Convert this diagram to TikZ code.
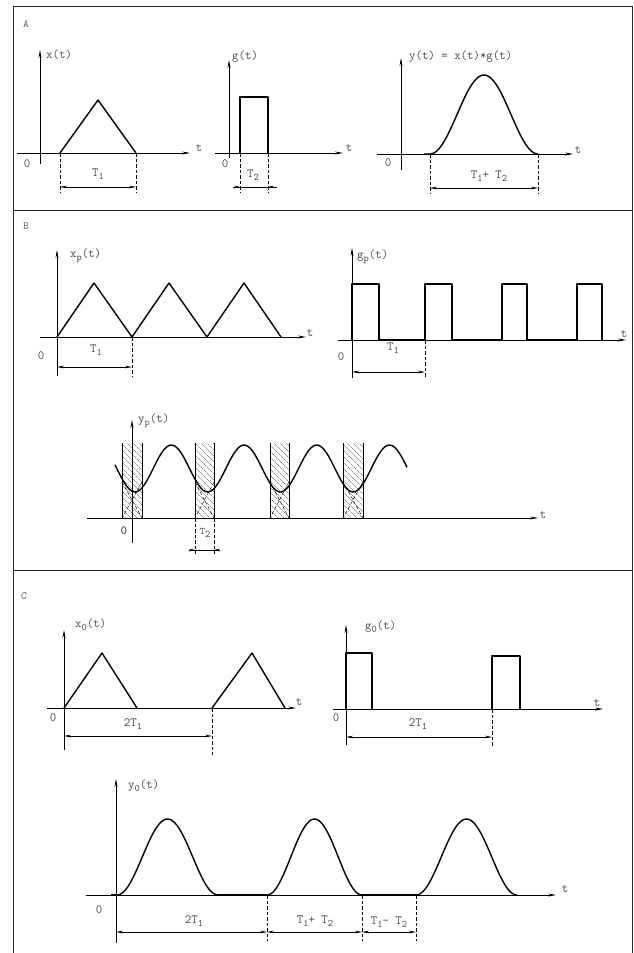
\documentclass[tikz,border=0pt]{standalone}
\usepackage{fontspec}
\usetikzlibrary{arrows.meta,patterns.meta}

\newcommand{\lowsub}[1]{\raisebox{-0.5ex}{\fontsize{10}{11}\selectfont #1}}

\tikzset{
    axis/.style={line width=0.7pt, -{Stealth[length=8pt,width=3pt]}},
    signal/.style={line width=1.4pt, line join=round},
    guide/.style={line width=0.45pt, dash pattern=on 3.5pt off 2pt},
    dimline/.style={line width=0.5pt, {Stealth[length=7pt,width=2.6pt]}-{Stealth[length=7pt,width=2.6pt]}},
    dimtip/.style={line width=0.5pt, -{Stealth[length=6pt,width=2.6pt]}},
    lbl/.style={font=\fontsize{12.5}{14}\ttfamily, text=black!72, inner sep=0pt},
    panellbl/.style={font=\fontsize{11}{12}\ttfamily, text=black!65, inner sep=0pt},
    frame/.style={line width=1pt, black!85},
    hatch/.style={pattern={Lines[angle=-45, distance=4pt, line width=0.45pt]}, pattern color=black!65},
}

\begin{document}
\begin{tikzpicture}[x=1pt, y=-1pt]

    \useasboundingbox (0,0) rectangle (634,953);

    % frame and panels
    \draw[frame] (13,953) -- (13,6) -- (632,6) -- (632,953);
    \draw[frame] (13,210) -- (632,210);
    \draw[frame] (13,570) -- (632,570);

    \node[panellbl] (pA) at (26,24) {A};
    \node[panellbl] (pB) at (26,226) {B};
    \node[panellbl] (pC) at (24,596) {C};

    % ---- A ----
    \draw[axis] (17,153) -- (190,153);
    \draw[axis] (40,164) -- (40,50);
    \draw[signal] (60,153) -- (98,100) -- (136,153);
    \draw[guide] (60,153) -- (60,192);
    \draw[guide] (136,153) -- (136,192);
    \draw[dimline] (60,187) -- (136,187);
    \node[lbl, anchor=west] (xlab) at (46,55) {x(t)};
    \node[lbl] (xzero) at (27,164) {0};
    \node[lbl] (xt) at (199,148) {t};
    \node[lbl] (xdim) at (98,174) {T\lowsub{1}};

    \draw[axis] (215,153) -- (343,153);
    \draw[axis] (229,158) -- (229,60);
    \draw[signal] (240,153) -- (240,97) -- (268,97) -- (268,153);
    \draw[guide] (240,153) -- (240,192);
    \draw[guide] (268,153) -- (268,192);
    \draw[line width=0.5pt] (233,187) -- (277,187);
    \draw[dimtip] (233,187) -- (240,187);
    \draw[dimtip] (277,187) -- (268,187);
    \node[lbl, anchor=west] (glab) at (232,57) {g(t)};
    \node[lbl] (gzero) at (225,164) {0};
    \node[lbl] (gt) at (349,148) {t};
    \node[lbl] (gdim) at (253,175) {T\lowsub{2}};

    \draw[axis] (377,154) -- (573,154);
    \draw[axis] (401,170) -- (401,58);
    \draw[signal] (424,154) -- (430,154)
        plot[domain=430:538, samples=60] (\x, {154-39.5*(1-cos((\x-430)/108*360))});
    \draw[guide] (430,154) -- (430,193);
    \draw[guide] (538,154) -- (538,193);
    \draw[dimline] (430,188) -- (538,188);
    \node[lbl, anchor=west] (ylab) at (409,57) {y(t) = x(t)*g(t)};
    \node[lbl] (yzero) at (388,163) {0};
    \node[lbl] (yt) at (578,150) {t};
    \node[lbl] (ydim) at (489,176) {T\lowsub{1}+ T\lowsub{2}};

    % ---- B ----
    \draw[axis] (40,337) -- (306,337);
    \draw[axis] (57,376) -- (57,250);
    \draw[signal] (57,337) -- (94,283) -- (132,337) -- (169,283)
        -- (207,337) -- (244,283) -- (281,337);
    \draw[guide] (132,337) -- (132,376);
    \draw[dimline] (57,367) -- (132,367);
    \node[lbl, anchor=west] (xplab) at (70,256) {x\lowsub{p}(t)};
    \node[lbl] (xpzero) at (41,356) {0};
    \node[lbl] (xpt) at (310,333) {t};
    \node[lbl] (xpdim) at (96,350) {T\lowsub{1}};

    \draw[axis] (338,340) -- (626,340);
    \draw[axis] (352,378) -- (352,248);
    \draw[signal] (352,340) -- (352,284) -- (379,284) -- (379,340)
        -- (425,340) -- (425,284) -- (452,284) -- (452,340)
        -- (502,340) -- (502,284) -- (527,284) -- (527,340)
        -- (577,340) -- (577,284) -- (602,284) -- (602,340);
    \draw[guide] (425,340) -- (425,378);
    \draw[dimline] (352,372) -- (425,372);
    \node[lbl, anchor=west] (gplab) at (357,257) {g\lowsub{p}(t)};
    \node[lbl] (gpzero) at (341,357) {0};
    \node[lbl] (gpt) at (624,334) {t};
    \node[lbl] (gpdim) at (393,348) {T\lowsub{1}};

    \foreach \l/\r in {122/142, 195/214, 270/289, 343/363} {
        \fill[hatch] (\l,443) rectangle (\r,518);
        \draw[line width=0.4pt] (\l,443) -- (\l,518) (\r,443) -- (\r,518);
        \draw[guide] (\l,482) -- (\r,518) (\r,482) -- (\l,518);
    }
    \draw[axis] (87,518) -- (538,518);
    \draw[axis] (132,543) -- (132,420);
    \draw[signal] plot[domain=115:407, samples=120] (\x, {468.5+23.5*cos((\x-135)*4.952)});
    \draw[guide] (195,518) -- (195,554);
    \draw[guide] (214,518) -- (214,554);
    \draw[line width=0.5pt] (189,550) -- (220,550);
    \draw[dimtip] (189,550) -- (195,550);
    \draw[dimtip] (220,550) -- (214,550);
    \node[lbl, anchor=west] (yplab) at (138,421) {y\lowsub{p}(t)};
    \node[lbl, font=\fontsize{12.5}{14}\ttfamily\bfseries] (ypzero) at (124,531) {0};
    \node[lbl] (ypt) at (543,515) {t};
    \node[lbl, font=\fontsize{10}{12}\ttfamily] (ypdim) at (205,533) {T\lowsub{2}};

    % ---- C ----
    \draw[axis] (47,708) -- (296,708);
    \draw[axis] (64,750) -- (64,630);
    \draw[signal] (64,708) -- (102,653) -- (137,708);
    \draw[signal] (212,708) -- (252,653) -- (285,708);
    \draw[guide] (212,708) -- (212,755);
    \draw[dimline] (64,736) -- (212,736);
    \node[lbl, anchor=west] (x0lab) at (75,625) {x\lowsub{0}(t)};
    \node[lbl] (x0zero) at (53,718) {0};
    \node[lbl] (x0t) at (299,702) {t};
    \node[lbl] (x0dim) at (133,724) {2T\lowsub{1}};

    \draw[axis] (333,709) -- (603,709);
    \draw[axis] (346,745) -- (346,625);
    \draw[signal] (346,709) -- (346,653) -- (372,653) -- (372,709);
    \draw[signal] (492,709) -- (492,656) -- (520,656) -- (520,709);
    \draw[guide] (492,709) -- (492,746);
    \draw[dimline] (346,737) -- (492,737);
    \node[lbl, anchor=west] (g0lab) at (365,627) {g\lowsub{0}(t)};
    \node[lbl] (g0zero) at (336,718) {0};
    \node[lbl] (g0t) at (597,703) {t};
    \node[lbl] (g0dim) at (418,724) {2T\lowsub{1}};

    \draw[axis] (86,895) -- (556,895);
    \draw[axis] (116,943) -- (116,779);
    \draw[signal] (111,895) -- (117,895);
    \draw[signal] (218,895) -- (267,895);
    \draw[signal] (362,895) -- (416,895);
    \foreach \a/\b in {117/218, 267/362, 416/517} {
        \draw[signal] plot[domain=\a:\b, samples=60] (\x, {895-38*(1-cos((\x-\a)/(\b-\a)*360))});
    }
    \draw[guide] (267,895) -- (267,941);
    \draw[guide] (362,895) -- (362,941);
    \draw[guide] (416,895) -- (416,941);
    \draw[dimline] (116,932) -- (267,932);
    \draw[dimline] (267,932) -- (362,932);
    \draw[dimline] (362,932) -- (416,932);
    \node[lbl, anchor=west] (y0lab) at (128,786) {y\lowsub{0}(t)};
    \node[lbl] (y0zero) at (99,910) {0};
    \node[lbl] (y0t) at (565,889) {t};
    \node[lbl] (y0dima) at (194,921) {2T\lowsub{1}};
    \node[lbl] (y0dimb) at (315,921) {T\lowsub{1}+ T\lowsub{2}};
    \node[lbl] (y0dimc) at (389,922) {T\lowsub{1}- T\lowsub{2}};

\end{tikzpicture}
\end{document}
